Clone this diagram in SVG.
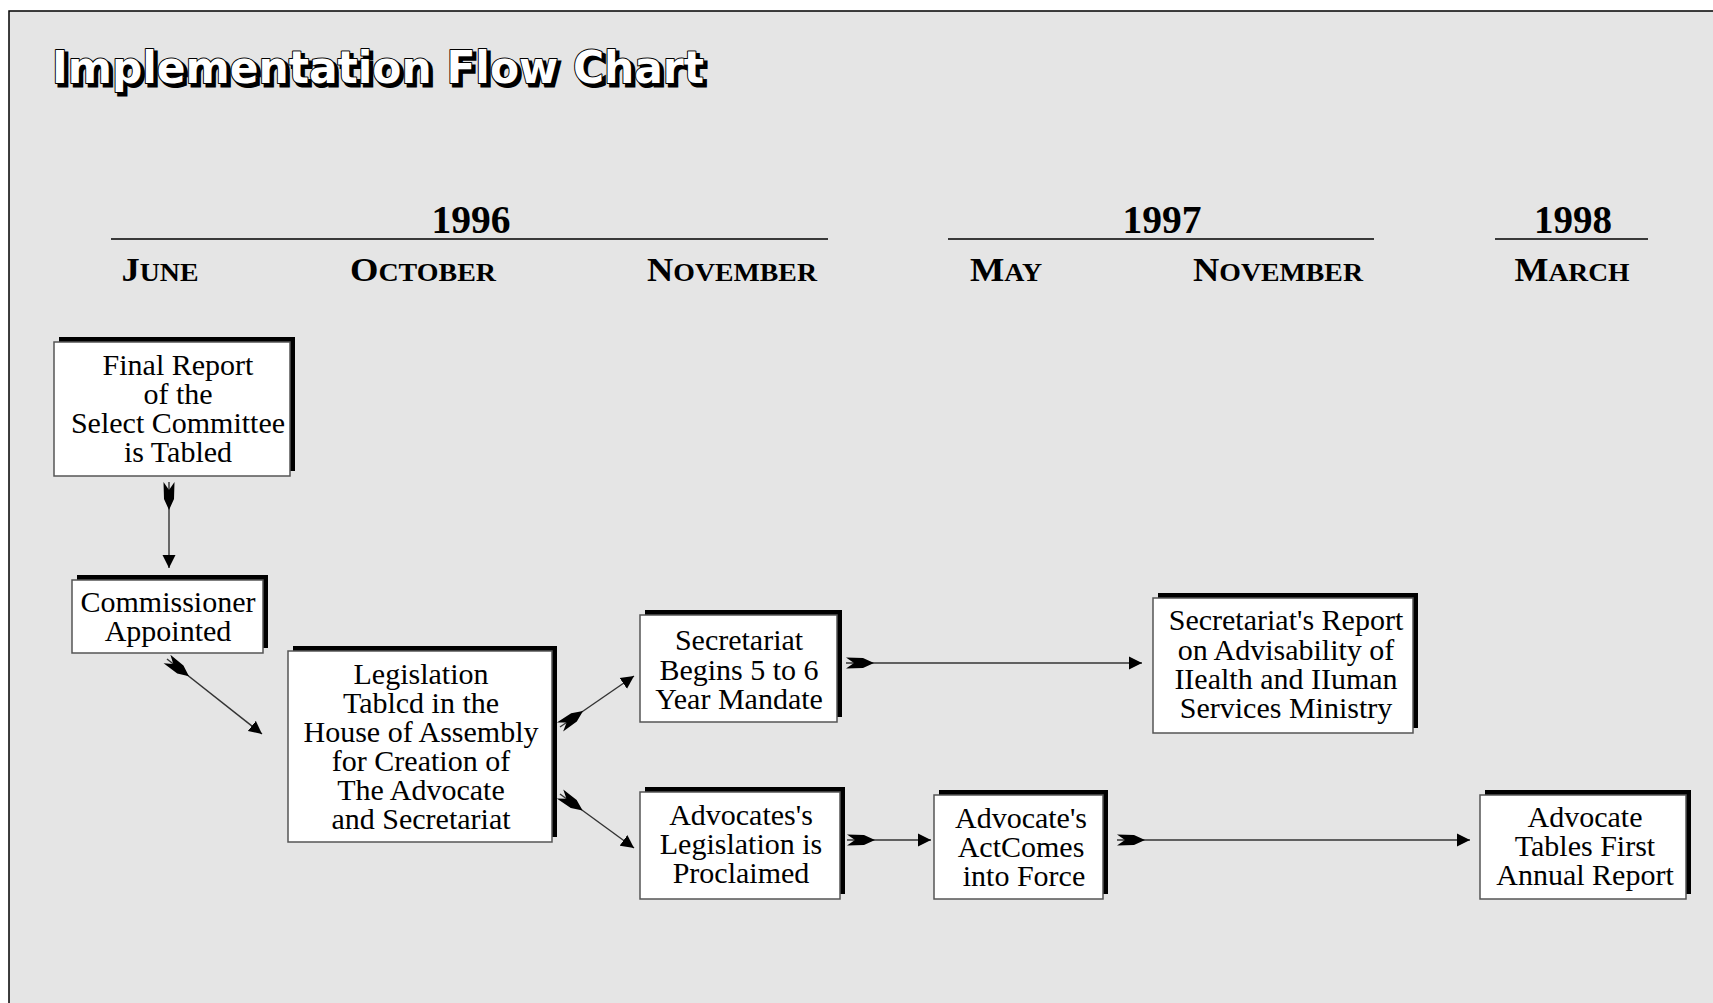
<svg xmlns="http://www.w3.org/2000/svg" width="1713" height="1003" viewBox="0 0 1713 1003">
<style>
.box{fill:#fff;stroke:#555;stroke-width:1.5}
.sh{fill:#000}
.t{font-family:"Liberation Serif","Times New Roman",serif;font-size:30px;fill:#000;text-anchor:middle}
.yr{font-family:"Liberation Serif","Times New Roman",serif;font-size:41px;font-weight:bold;fill:#000;text-anchor:middle}
.mo{font-family:"Liberation Serif","Times New Roman",serif;font-size:26px;font-weight:bold;fill:#000;text-anchor:middle}
.mo .c{font-size:34px}
.rule{stroke:#000;stroke-width:1.5}
.ln{fill:none;stroke:#333;stroke-width:1.4;marker-start:url(#tail);marker-end:url(#head)}
.ttl{font-family:"DejaVu Sans",sans-serif;font-weight:bold;font-size:44px}
</style>
<defs>
<marker id="head" markerUnits="userSpaceOnUse" markerWidth="14" markerHeight="14" refX="13" refY="7" orient="auto" viewBox="0 0 14 14">
<path d="M0,0.5 L13,7 L0,13.5 z" fill="#000"/>
</marker>
<marker id="tail" markerUnits="userSpaceOnUse" markerWidth="30" markerHeight="14" refX="0" refY="7" orient="auto" viewBox="0 0 30 14">
<path d="M0,1.5 L17,2 L28,7 L17,12 L0,12.5 L8,7 z" fill="#000"/>
</marker>
</defs>
<rect x="0" y="0" width="1713" height="1003" fill="#fff"/>
<rect x="9" y="11" width="1720" height="1010" fill="#e5e5e5" stroke="#000" stroke-width="1.5"/>
<g id="title">
<text class="ttl" x="55" y="86" textLength="652" lengthAdjust="spacingAndGlyphs" fill="#000" stroke="#000" stroke-width="3">Implementation Flow Chart</text>
<text class="ttl" x="52" y="83" textLength="652" lengthAdjust="spacingAndGlyphs" fill="#fff" stroke="#000" stroke-width="2" stroke-linejoin="round" paint-order="stroke">Implementation Flow Chart</text>
</g>
<g id="timeline">
<text class="yr" x="471" y="233" textLength="79" lengthAdjust="spacingAndGlyphs">1996</text>
<text class="yr" x="1162" y="233" textLength="79" lengthAdjust="spacingAndGlyphs">1997</text>
<text class="yr" x="1573" y="233" textLength="78" lengthAdjust="spacingAndGlyphs">1998</text>
<line class="rule" x1="111" y1="239" x2="828" y2="239"/>
<line class="rule" x1="948" y1="239" x2="1374" y2="239"/>
<line class="rule" x1="1495" y1="239" x2="1648" y2="239"/>
<text class="mo" x="160" y="281" textLength="77" lengthAdjust="spacingAndGlyphs"><tspan class="c">J</tspan>UNE</text>
<text class="mo" x="423" y="281" textLength="146" lengthAdjust="spacingAndGlyphs"><tspan class="c">O</tspan>CTOBER</text>
<text class="mo" x="732" y="281" textLength="170" lengthAdjust="spacingAndGlyphs"><tspan class="c">N</tspan>OVEMBER</text>
<text class="mo" x="1006" y="281" textLength="72" lengthAdjust="spacingAndGlyphs"><tspan class="c">M</tspan>AY</text>
<text class="mo" x="1278" y="281" textLength="170" lengthAdjust="spacingAndGlyphs"><tspan class="c">N</tspan>OVEMBER</text>
<text class="mo" x="1572" y="281" textLength="115" lengthAdjust="spacingAndGlyphs"><tspan class="c">M</tspan>ARCH</text>
</g>
<g id="connectors">
<path class="ln" d="M169,482 L169,568"/>
<path class="ln" d="M167,659 L262,734"/>
<path class="ln" d="M560,727 L634,676"/>
<path class="ln" d="M560,794 L634,848"/>
<path class="ln" d="M846,663 L1142,663"/>
<path class="ln" d="M847,840 L931,840"/>
<path class="ln" d="M1117,840 L1470,840"/>
</g>
<g id="n1">
<rect class="sh" x="59" y="337" width="236" height="134"/>
<rect class="box" x="54" y="342" width="236" height="134"/>
<text class="t" x="178" y="375">Final Report</text>
<text class="t" x="178" y="404">of the</text>
<text class="t" x="178" y="433">Select Committee</text>
<text class="t" x="178" y="462">is Tabled</text>
</g>
<g id="n2">
<rect class="sh" x="77" y="575" width="191" height="73"/>
<rect class="box" x="72" y="580" width="191" height="73"/>
<text class="t" x="168" y="612">Commissioner</text>
<text class="t" x="168" y="641">Appointed</text>
</g>
<g id="n3">
<rect class="sh" x="293" y="646" width="264" height="191"/>
<rect class="box" x="288" y="651" width="264" height="191"/>
<text class="t" x="421" y="684">Legislation</text>
<text class="t" x="421" y="713">Tablcd in the</text>
<text class="t" x="421" y="742">House of Assembly</text>
<text class="t" x="421" y="771">for Creation of</text>
<text class="t" x="421" y="800">The Advocate</text>
<text class="t" x="421" y="829">and Secretariat</text>
</g>
<g id="n4">
<rect class="sh" x="645" y="610" width="197" height="107"/>
<rect class="box" x="640" y="615" width="197" height="107"/>
<text class="t" x="739" y="650">Secretariat</text>
<text class="t" x="739" y="680">Begins 5 to 6</text>
<text class="t" x="739" y="709">Year Mandate</text>
</g>
<g id="n5">
<rect class="sh" x="645" y="787" width="200" height="107"/>
<rect class="box" x="640" y="792" width="200" height="107"/>
<text class="t" x="741" y="825">Advocates's</text>
<text class="t" x="741" y="854">Legislation is</text>
<text class="t" x="741" y="883">Proclaimed</text>
</g>
<g id="n6">
<rect class="sh" x="1158" y="593" width="260" height="135"/>
<rect class="box" x="1153" y="598" width="260" height="135"/>
<text class="t" x="1286" y="630">Secretariat's Report</text>
<text class="t" x="1286" y="660">on Advisability of</text>
<text class="t" x="1286" y="689">IIealth and IIuman</text>
<text class="t" x="1286" y="718">Services Ministry</text>
</g>
<g id="n7">
<rect class="sh" x="939" y="790" width="169" height="104"/>
<rect class="box" x="934" y="795" width="169" height="104"/>
<text class="t" x="1021" y="828">Advocate's</text>
<text class="t" x="1021" y="857">ActComes</text>
<text class="t" x="1024" y="886">into Force</text>
</g>
<g id="n8">
<rect class="sh" x="1485" y="790" width="206" height="104"/>
<rect class="box" x="1480" y="795" width="206" height="104"/>
<text class="t" x="1585" y="827">Advocate</text>
<text class="t" x="1585" y="856">Tables First</text>
<text class="t" x="1585" y="885">Annual Report</text>
</g>
</svg>
